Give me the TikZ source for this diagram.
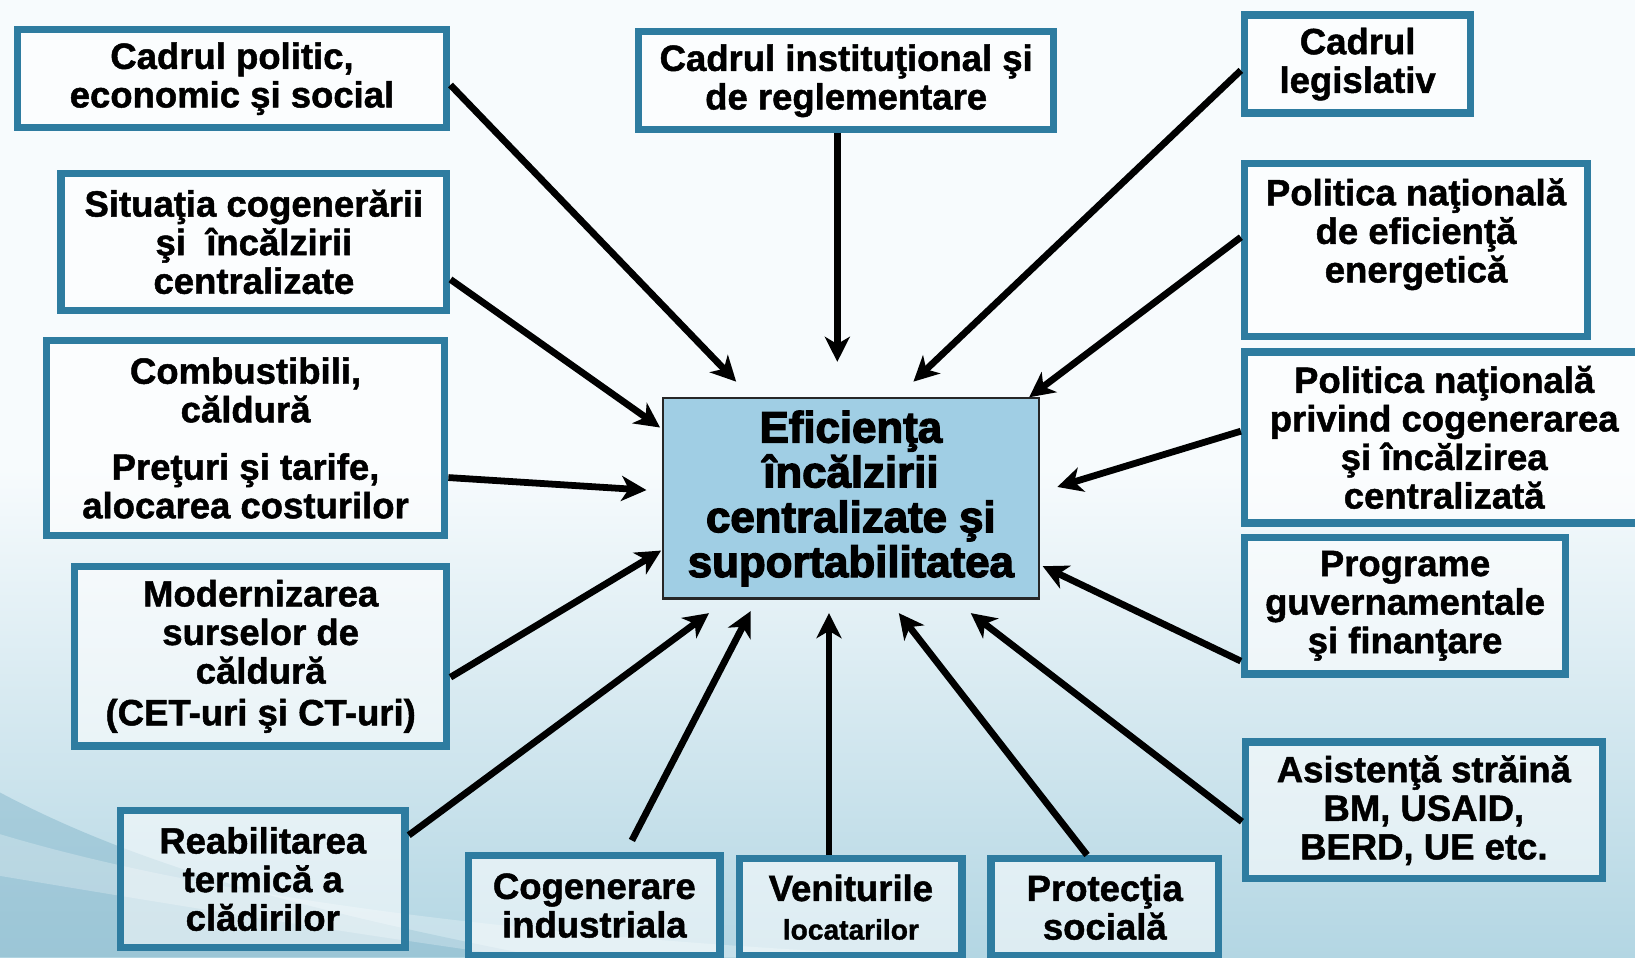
\documentclass[tikz,border=0pt]{standalone}
\usepackage{fontspec}
\setmainfont[BoldFeatures={FakeBold=1.3}]{Liberation Sans}
\newfontfamily\blackfont[FakeBold=3]{Liberation Sans Bold}
\usetikzlibrary{arrows.meta,calc}
\definecolor{frame}{HTML}{2E7CA0}
\definecolor{core}{HTML}{A0CEE4}
\definecolor{bgtop}{HTML}{F7FBFD}
\definecolor{bgbot}{HTML}{B3D6E3}
\definecolor{bgwave}{HTML}{7FB3C8}
\begin{document}
\begin{tikzpicture}[x=1pt,y=-1pt,
	factor/.style={draw=frame,line width=7pt,fill=white,fill opacity=0.55,text opacity=1,inner sep=0pt,align=center,font=\fontsize{35}{37}\selectfont\bfseries},
	goal/.style={draw=black!85,line width=2pt,fill=core,inner sep=0pt,align=center,minimum width=360pt,minimum height=192pt,font=\fontsize{42}{43}\selectfont\blackfont},
	arr/.style={line width=6.5pt,-{Stealth[length=24pt,width=24pt,inset=7pt]}}]
		\useasboundingbox (0,0) rectangle (1568,918);
		\fill[bgtop] (0,0) rectangle (1568,450);
		\shade[top color=bgtop,bottom color=bgbot] (0,450) rectangle (1568,918);
		\fill[bgwave,opacity=0.45] (0,760) .. controls (150,840) and (330,880) .. (520,918) -- (0,918) -- cycle;
		\fill[white,opacity=0.25] (0,800) .. controls (200,860) and (500,900) .. (900,918) -- (500,918) .. controls (300,890) and (120,860) .. (0,840) -- cycle;
		
		\node[goal] (cen) at (816,478) {Eficienţa\\încălzirii\\centralizate şi\\suportabilitatea};
		
		\node[factor,minimum width=412pt,minimum height=94pt] (b1) at (222.5,75.5) {Cadrul politic,\\economic şi social};
		\node[factor,minimum width=398pt,minimum height=94pt] (b2) at (811.5,77.5) {Cadrul instituţional şi\\de reglementare};
		\node[factor,minimum width=217pt,minimum height=94pt] (b3) at (1302,61.5) {Cadrul\\legislativ};
		\node[factor,minimum width=370pt,minimum height=131pt] (b4) at (243.5,232) {Situaţia cogenerării\\şi~ încălzirii\\centralizate};
		\node[factor,minimum width=329pt,minimum height=166pt] (b5) at (1358,239.5) {Politica naţională\\de eficienţă\\energetică\\\mbox{}};
		\node[factor,minimum width=382pt,minimum height=187pt] (b6) at (235.5,420) {Combustibili,\\căldură\\[18pt]Preţuri şi tarife,\\alocarea costurilor};
		\node[factor,minimum width=383pt,minimum height=164pt] (b7) at (1385,419.5) {Politica naţională\\privind cogenerarea\\şi încălzirea\\centralizată};
		\node[factor,minimum width=357pt,minimum height=172pt] (b8) at (250,629.5) {Modernizarea\\surselor de\\căldură\\[3pt](CET-uri şi CT-uri)};
		\node[factor,minimum width=308pt,minimum height=131pt] (b9) at (1347.5,581) {Programe\\guvernamentale\\şi finanţare};
		\node[factor,minimum width=342pt,minimum height=131pt] (b10) at (1365.5,777) {Asistenţă străină\\BM, USAID,\\BERD, UE etc.};
		\node[factor,minimum width=273pt,minimum height=131pt] (b11) at (252,843) {Reabilitarea\\termică a\\clădirilor};
		\node[factor,minimum width=241pt,minimum height=96pt] (b12) at (570,868.5) {Cogenerare\\industriala};
		\node[factor,minimum width=213pt,minimum height=93pt] (b13) at (816,870) {Veniturile\\{\fontsize{27}{35}\selectfont locatarilor}};
		\node[factor,minimum width=218pt,minimum height=93pt] (b14) at (1059.5,870) {Protecţia\\socială};
		
		\coordinate (t1) at (706,366);
		\coordinate (t2) at (803,347);
		\coordinate (t3) at (876,366);
		\coordinate (t4) at (633,410);
		\coordinate (t5) at (987,381);
		\coordinate (t6) at (620,470);
		\coordinate (t7) at (1014,467);
		\coordinate (t8) at (634,528);
		\coordinate (t9) at (1000,543);
		\coordinate (t10) at (931,588);
		\coordinate (t11) at (680,588);
		\coordinate (t12) at (720,586);
		\coordinate (t13) at (795,588);
		\coordinate (t14) at (862,588);
		
		\draw[arr] ($(b1.east)+(0,6)$) -- (t1);
		\draw[arr] (b2.south -| t2) -- (t2);
		\draw[arr] ($(b3.west)+(0,6)$) -- (t3);
		\draw[arr] ($(b4.east)+(0,36)$) -- (t4);
		\draw[arr] ($(b5.west)+(0,-12)$) -- (t5);
		\draw[arr] ($(b6.east)+(0,38)$) -- (t6);
		\draw[arr] ($(b7.west)+(0,-6)$) -- (t7);
		\draw[arr] ($(b8.east)+(0,20)$) -- (t8);
		\draw[arr] ($(b9.west)+(0,53)$) -- (t9);
		\draw[arr] ($(b10.west)+(0,11)$) -- (t10);
		\draw[arr] ($(b11.east)+(0,-42)$) -- (t11);
		\draw[arr] ($(b12.north)+(36,-11)$) -- (t12);
		\draw[arr] (b13.north -| t13) -- (t13);
		\draw[arr] ($(b14.north)+(-17,0)$) -- (t14);
	\end{tikzpicture}
\end{document}
